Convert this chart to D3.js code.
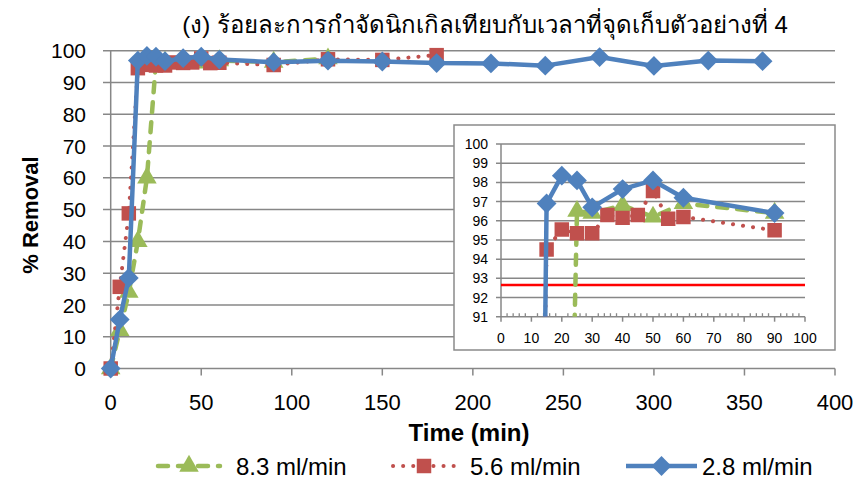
<!DOCTYPE html>
<html>
<head>
<meta charset="utf-8">
<script src="https://cdn.jsdelivr.net/npm/d3@7/dist/d3.min.js"></script>
<style>
  html, body { margin: 0; padding: 0; background: #ffffff; }
  svg { display: block; }
  .narrow { font-family: "Liberation Sans Narrow", "Arial Narrow", "Liberation Sans", sans-serif; }
  .wide { font-family: "Liberation Sans", Arial, sans-serif; }
</style>
</head>
<body>
<svg id="chart" width="868" height="479"></svg>
<script>
// Nickel removal (%) versus time at sampling point 4, three flow rates
const seriesNames = ["8.3 ml/min", "5.6 ml/min", "2.8 ml/min"];

const time83 = [0, 5, 10, 15, 20, 25, 30, 40, 50, 60, 90, 120];
const removal83 = [0, 12, 24, 40, 60, 96.5, 96.4, 96.8, 96.2, 96.9, 96.4, 97.5];

const time56 = [0, 5, 10, 15, 20, 25, 30, 35, 40, 45, 50, 55, 60, 90, 120, 150, 180];
const removal56 = [0, 25.7, 48.8, 94.5, 95.55, 95.35, 95.35, 96.3, 96.15, 96.3, 97.55, 96.1, 96.2, 95.5, 97.3, 97.1, 98.6];

const time28 = [0, 5, 10, 15, 20, 25, 30, 40, 50, 60, 90, 120, 150, 180, 210, 240, 270, 300, 330, 360];
const removal28 = [0, 15.4, 28.5, 96.9, 98.35, 98.1, 96.7, 97.65, 98.1, 97.2, 96.4, 96.85, 96.6, 96.1, 96.0, 95.3, 98.0, 95.2, 96.9, 96.7];

const mainXTicks = [0, 50, 100, 150, 200, 250, 300, 350, 400];
const mainYTicks = [0, 10, 20, 30, 40, 50, 60, 70, 80, 90, 100];
const insetXTicks = [0, 10, 20, 30, 40, 50, 60, 70, 80, 90, 100];
const insetYTicks = [91, 92, 93, 94, 95, 96, 97, 98, 99, 100];
const insetRefLine = [92.65];

const titleText = "(ง) ร้อยละการกำจัดนิกเกิลเทียบกับเวลาที่จุดเก็บตัวอย่างที่  4";

const colors = { g: "#9BBB59", r: "#C0504D", b: "#4F81BD" };
const gridColor = "#878787";

const svg = d3.select("#chart");

const toPoints = (t, v) => t.map((x, i) => ({ x, y: v[i] }));
const data = [
  { key: "g", name: seriesNames[0], pts: toPoints(time83, removal83) },
  { key: "r", name: seriesNames[1], pts: toPoints(time56, removal56) },
  { key: "b", name: seriesNames[2], pts: toPoints(time28, removal28) }
];

function lineStyle(sel, key) {
  sel.attr("fill", "none").attr("stroke", colors[key]);
  if (key === "g") sel.attr("stroke-width", 4.5).attr("stroke-dasharray", "10,10").attr("stroke-linecap", "round");
  else if (key === "r") sel.attr("stroke-width", 4).attr("stroke-dasharray", "0.1,10").attr("stroke-linecap", "round");
  else sel.attr("stroke-width", 4.5).attr("stroke-linejoin", "round");
}

function marker(sel, key) {
  let sym;
  if (key === "g") sym = d3.symbol().type(d3.symbolTriangle).size(165);
  else if (key === "r") sym = d3.symbol().type(d3.symbolSquare).size(210);
  else sym = d3.symbol().type(d3.symbolDiamond2).size(250);
  sel.attr("d", sym).attr("fill", colors[key]).attr("stroke", "none");
}

// ---------- main plot ----------
const x = d3.scaleLinear().domain([0, 400]).range([110.7, 835]);
const y = d3.scaleLinear().domain([0, 100]).range([368.5, 50.7]);

const main = svg.append("g");

main.append("g").selectAll("line").data(mainYTicks).join("line")
  .attr("x1", 103).attr("x2", x(400))
  .attr("y1", d => y(d)).attr("y2", d => y(d))
  .attr("stroke", gridColor).attr("stroke-width", 1.5);

main.append("line").attr("x1", x(0)).attr("x2", x(0)).attr("y1", y(100)).attr("y2", y(0))
  .attr("stroke", gridColor).attr("stroke-width", 1.5);

main.append("g").selectAll("line").data(mainXTicks).join("line")
  .attr("x1", d => x(d)).attr("x2", d => x(d))
  .attr("y1", y(0)).attr("y2", y(0) + 7)
  .attr("stroke", gridColor).attr("stroke-width", 1.5);

main.append("g").selectAll("text").data(mainYTicks).join("text")
  .attr("class", "wide")
  .attr("x", 86).attr("y", d => y(d)).attr("dy", "0.36em")
  .attr("text-anchor", "end").attr("font-size", 21).attr("fill", "#000")
  .text(d => d);

main.append("g").selectAll("text").data(mainXTicks).join("text")
  .attr("class", "narrow")
  .attr("x", d => x(d)).attr("y", 410)
  .attr("text-anchor", "middle").attr("font-size", 22).attr("fill", "#000")
  .text(d => d);

const mainLine = d3.line().x(d => x(d.x)).y(d => y(d.y));
data.forEach(s => {
  main.append("path").datum(s.pts).attr("d", mainLine).call(lineStyle, s.key);
  main.append("g").selectAll("path").data(s.pts).join("path")
    .attr("transform", d => `translate(${x(d.x)},${y(d.y)})`)
    .call(marker, s.key);
});

// ---------- titles ----------
svg.append("text").attr("class", "narrow")
  .attr("x", 485).attr("y", 33).attr("text-anchor", "middle")
  .attr("font-size", 24).attr("fill", "#000").text(titleText);

svg.append("text").attr("class", "narrow")
  .attr("x", 469).attr("y", 441).attr("text-anchor", "middle")
  .attr("font-size", 24).attr("font-weight", "bold").attr("fill", "#000").text("Time (min)");

svg.append("text").attr("class", "wide")
  .attr("transform", "translate(38,215) rotate(-90)").attr("text-anchor", "middle")
  .attr("font-size", 22).attr("font-weight", "bold").attr("fill", "#000").text("% Removal");

// ---------- inset ----------
const inset = svg.append("g");
inset.append("rect").attr("x", 454).attr("y", 125).attr("width", 381).attr("height", 225)
  .attr("fill", "#fff").attr("stroke", "#8a8a8a").attr("stroke-width", 1.5);

const ix = d3.scaleLinear().domain([0, 100]).range([501, 805]);
const iy = d3.scaleLinear().domain([91, 100]).range([316.7, 144]);

// lines inside the inset stop at its lower axis
svg.append("defs").append("clipPath").attr("id", "insetClip")
  .append("rect").attr("x", ix(0) - 12).attr("y", iy(100) - 12)
  .attr("width", ix(100) - ix(0) + 24).attr("height", iy(91) - iy(100) + 12);

inset.append("g").selectAll("line").data(insetYTicks).join("line")
  .attr("x1", ix(0) - 5).attr("x2", ix(100))
  .attr("y1", d => iy(d)).attr("y2", d => iy(d))
  .attr("stroke", gridColor).attr("stroke-width", 1.5);

inset.append("line").attr("x1", ix(0)).attr("x2", ix(0)).attr("y1", iy(100)).attr("y2", iy(91))
  .attr("stroke", gridColor).attr("stroke-width", 1.5);

inset.append("g").selectAll("line").data(insetXTicks).join("line")
  .attr("x1", d => ix(d)).attr("x2", d => ix(d))
  .attr("y1", iy(91)).attr("y2", iy(91) + 5)
  .attr("stroke", gridColor).attr("stroke-width", 1.5);

inset.append("g").selectAll("line").data(d3.range(0, 101, 2).filter(d => d % 10 !== 0)).join("line")
  .attr("x1", d => ix(d)).attr("x2", d => ix(d))
  .attr("y1", iy(91)).attr("y2", iy(91) - 3.5)
  .attr("stroke", gridColor).attr("stroke-width", 1.3);

inset.append("g").selectAll("text").data(insetYTicks).join("text")
  .attr("class", "wide")
  .attr("x", 488).attr("y", d => iy(d)).attr("dy", "0.36em")
  .attr("text-anchor", "end").attr("font-size", 14).attr("fill", "#000")
  .text(d => d);

inset.append("g").selectAll("text").data(insetXTicks).join("text")
  .attr("class", "wide")
  .attr("x", d => ix(d)).attr("y", 343)
  .attr("text-anchor", "middle").attr("font-size", 14).attr("fill", "#000")
  .text(d => d);

inset.append("line").datum(insetRefLine[0])
  .attr("x1", ix(0)).attr("x2", ix(100))
  .attr("y1", d => iy(d)).attr("y2", d => iy(d))
  .attr("stroke", "#FF0000").attr("stroke-width", 2.5);

const insetPlot = inset.append("g").attr("clip-path", "url(#insetClip)");
const insetLine = d3.line().x(d => ix(d.x)).y(d => iy(d.y));
data.forEach(s => {
  const pts = s.pts.filter(d => d.x <= 100);
  insetPlot.append("path").datum(pts).attr("d", insetLine).call(lineStyle, s.key);
  insetPlot.append("g").selectAll("path").data(pts.filter(d => d.y >= 91)).join("path")
    .attr("transform", d => `translate(${ix(d.x)},${iy(d.y)})`)
    .call(marker, s.key);
});

// ---------- legend ----------
const legendItems = [
  { key: "g", x1: 158, x2: 220, label: 236 },
  { key: "r", x1: 393, x2: 455, label: 470 },
  { key: "b", x1: 626, x2: 697, label: 702 }
];
const legend = svg.append("g");
legendItems.forEach((it, i) => {
  const ly = 466;
  legend.append("line").attr("x1", it.x1).attr("x2", it.x2).attr("y1", ly).attr("y2", ly)
    .call(lineStyle, it.key);
  legend.append("path").attr("transform", `translate(${(it.x1 + it.x2) / 2},${ly})`)
    .call(marker, it.key);
  legend.append("text").attr("class", "narrow")
    .attr("x", it.label).attr("y", ly).attr("dy", "0.36em")
    .attr("font-size", 24).attr("fill", "#000").text(seriesNames[i]);
});
</script>
</body>
</html>
